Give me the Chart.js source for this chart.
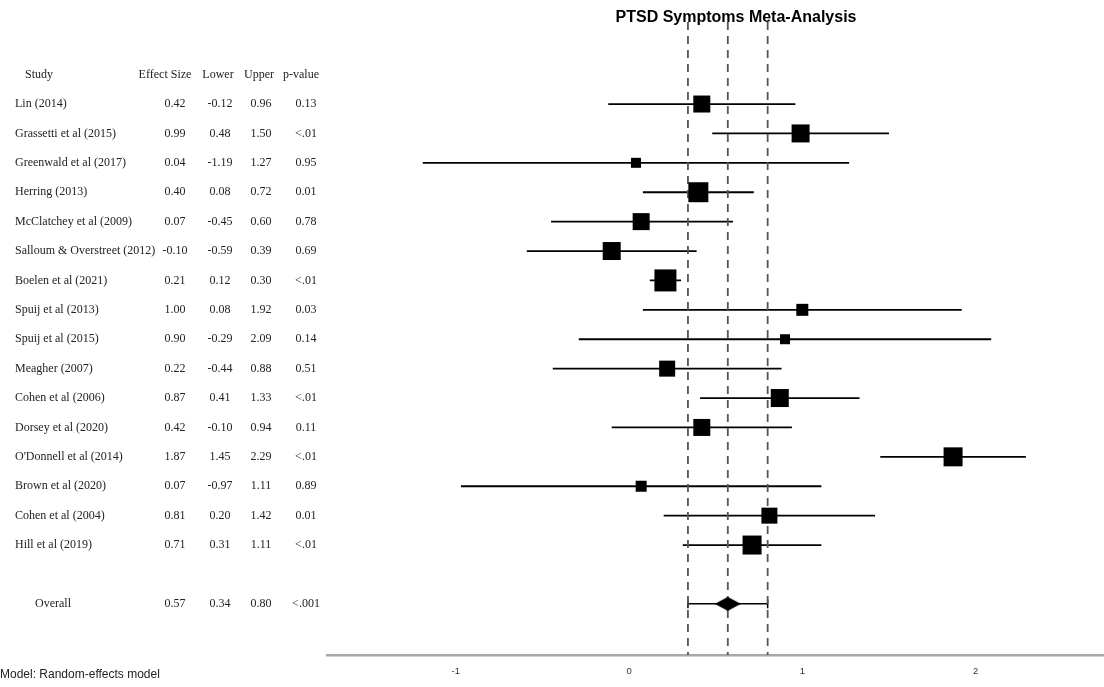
<!DOCTYPE html>
<html>
<head>
<meta charset="utf-8">
<title>PTSD Symptoms Meta-Analysis</title>
<script src="https://cdn.jsdelivr.net/npm/chart.js@4.4.1/dist/chart.umd.min.js"></script>
<style>
  html, body { margin: 0; padding: 0; background: #fff; }
  #forest { display: block; }
</style>
</head>
<body>
<canvas id="forest" width="1104" height="687"></canvas>
<script>
// study data
const studies = [
    'Lin (2014)', 'Grassetti et al (2015)', 'Greenwald et al (2017)', 'Herring (2013)',
    'McClatchey et al (2009)', 'Salloum & Overstreet (2012)', 'Boelen et al (2021)', 'Spuij et al (2013)',
    'Spuij et al (2015)', 'Meagher (2007)', 'Cohen et al (2006)', 'Dorsey et al (2020)',
    "O'Donnell et al (2014)", 'Brown et al (2020)', 'Cohen et al (2004)', 'Hill et al (2019)'
];
const effectSizes = [0.42, 0.99, 0.04, 0.40, 0.07, -0.10, 0.21, 1.00, 0.90, 0.22, 0.87, 0.42, 1.87, 0.07, 0.81, 0.71];
const lowerCI = [-0.12, 0.48, -1.19, 0.08, -0.45, -0.59, 0.12, 0.08, -0.29, -0.44, 0.41, -0.10, 1.45, -0.97, 0.20, 0.31];
const upperCI = [0.96, 1.50, 1.27, 0.72, 0.60, 0.39, 0.30, 1.92, 2.09, 0.88, 1.33, 0.94, 2.29, 1.11, 1.42, 1.11];
const pValues = ['0.13', '<.01', '0.95', '0.01', '0.78', '0.69', '<.01', '0.03', '0.14', '0.51', '<.01', '0.11', '<.01', '0.89', '0.01', '<.01'];

// pooled estimate
const overallLabel = 'Overall';
const overallEffect = 0.57;
const overallLower = 0.34;
const overallUpper = 0.80;
const overallP = '<.001';

const xTicks = [-1, 0, 1, 2];
const headers = ['Study', 'Effect Size', 'Lower', 'Upper', 'p-value'];

// box side (px) per study, by weight
const boxSizes = [17, 18, 10, 20, 17, 18, 22, 12, 10, 16, 18, 17, 19, 11, 16, 19];

// row positions: header at 0, studies from 1, overall two rows after the last
const rowOf = i => i + 1;
const overallRow = studies.length + 2;
const yTop = -1.79;
const yBottom = 19.74;

// diamond marker for the pooled estimate
const diamond = document.createElement('canvas');
diamond.width = 26;
diamond.height = 14;
(() => {
    const d = diamond.getContext('2d');
    d.fillStyle = '#000';
    d.beginPath();
    d.moveTo(0, 7);
    d.lineTo(13, 0);
    d.lineTo(26, 7);
    d.lineTo(13, 14);
    d.closePath();
    d.fill();
})();

const datasets = [];

// boxes
datasets.push({
    data: effectSizes.map((v, i) => ({ x: v, y: rowOf(i) })),
    pointStyle: 'rect',
    pointRadius: boxSizes.map(s => s / Math.SQRT2),
    pointBackgroundColor: '#000',
    pointBorderWidth: 0,
    showLine: false,
    order: 0
});

// pooled diamond
datasets.push({
    data: [{ x: overallEffect, y: overallRow }],
    pointStyle: diamond,
    showLine: false,
    order: 0
});

// reference lines at the pooled estimate and its CI
[overallLower, overallEffect, overallUpper].forEach(v => {
    datasets.push({
        data: [{ x: v, y: yTop }, { x: v, y: yBottom }],
        showLine: true,
        borderColor: '#555',
        borderWidth: 1.8,
        borderDash: [8, 6],
        pointRadius: 0,
        order: 1
    });
});

// confidence intervals
effectSizes.forEach((v, i) => {
    datasets.push({
        data: [{ x: lowerCI[i], y: rowOf(i) }, { x: upperCI[i], y: rowOf(i) }],
        showLine: true,
        borderColor: '#000',
        borderWidth: 1.8,
        pointRadius: 0,
        order: 2
    });
});

// pooled CI with end caps
datasets.push({
    data: [{ x: overallLower, y: overallRow }, { x: overallUpper, y: overallRow }],
    showLine: true,
    borderColor: '#000',
    borderWidth: 1.5,
    pointStyle: 'line',
    rotation: 90,
    pointRadius: 4.5,
    pointBorderColor: '#000',
    pointBorderWidth: 1.5,
    order: 2
});

// table, title and note
const textPlugin = {
    id: 'forestText',
    afterDraw(chart) {
        const ctx = chart.ctx;
        const y = chart.scales.y;
        const colX = [15, 175, 220, 261, 306];
        const headX = [25, 165, 218, 259, 301];

        ctx.save();
        ctx.fillStyle = '#222';
        ctx.font = '12px "Liberation Serif"';
        ctx.textBaseline = 'middle';

        headers.forEach((h, c) => {
            ctx.textAlign = c === 0 ? 'left' : 'center';
            ctx.fillText(h, headX[c], y.getPixelForValue(0));
        });

        studies.forEach((name, i) => {
            const py = y.getPixelForValue(rowOf(i));
            ctx.textAlign = 'left';
            ctx.fillText(name, colX[0], py);
            ctx.textAlign = 'center';
            ctx.fillText(effectSizes[i].toFixed(2), colX[1], py);
            ctx.fillText(lowerCI[i].toFixed(2), colX[2], py);
            ctx.fillText(upperCI[i].toFixed(2), colX[3], py);
            ctx.fillText(pValues[i], colX[4], py);
        });

        const oy = y.getPixelForValue(overallRow);
        ctx.textAlign = 'left';
        ctx.fillText(overallLabel, 35, oy);
        ctx.textAlign = 'center';
        ctx.fillText(overallEffect.toFixed(2), colX[1], oy);
        ctx.fillText(overallLower.toFixed(2), colX[2], oy);
        ctx.fillText(overallUpper.toFixed(2), colX[3], oy);
        ctx.fillText(overallP, colX[4], oy);

        ctx.fillStyle = '#000';
        ctx.font = 'bold 16px "Liberation Sans"';
        ctx.textAlign = 'center';
        ctx.fillText('PTSD Symptoms Meta-Analysis', 736, 18);

        ctx.fillStyle = '#222';
        ctx.font = '12px "Liberation Sans"';
        ctx.textAlign = 'left';
        ctx.fillText('Model: Random-effects model', 0, 675);
        ctx.restore();
    }
};

new Chart(document.getElementById('forest'), {
    type: 'scatter',
    data: { datasets },
    options: {
        responsive: false,
        devicePixelRatio: 1,
        animation: false,
        events: [],
        layout: {
            autoPadding: false,
            padding: { left: 327, top: 22, right: 0, bottom: 0 }
        },
        plugins: {
            legend: { display: false },
            tooltip: { enabled: false }
        },
        scales: {
            x: {
                type: 'linear',
                min: -1.743,
                max: 2.741,
                afterBuildTicks: s => { s.ticks = xTicks.map(v => ({ value: v })); },
                afterFit: s => {
                    s.height = 32;
                    s.paddingLeft = 0;
                    s.paddingRight = 0;
                },
                grid: { display: false, drawTicks: false },
                border: { display: true, color: '#a8a8a8', width: 2.5 },
                ticks: {
                    padding: 11,
                    color: '#333',
                    font: { family: '"Liberation Sans"', size: 9.5 }
                }
            },
            y: {
                type: 'linear',
                reverse: true,
                min: yTop,
                max: yBottom,
                display: false
            }
        }
    },
    plugins: [textPlugin]
});
</script>
</body>
</html>
